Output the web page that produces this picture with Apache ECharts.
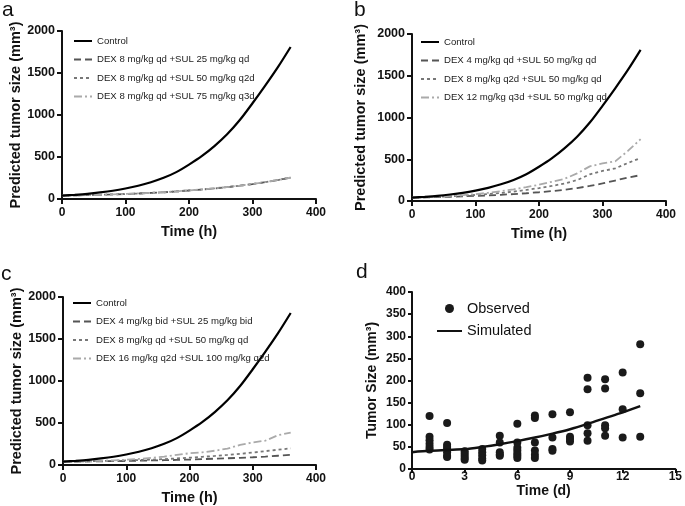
<!DOCTYPE html>
<html>
<head>
<meta charset="utf-8">
<script src="https://cdn.jsdelivr.net/npm/echarts@6/dist/echarts.min.js"></script>
<style>
html,body{margin:0;padding:0;background:#fff;}
#chart{width:685px;height:506px;}
</style>
</head>
<body>
<div id="chart"></div>
<script>
// ---------- DATA ----------
const timeH = [0,20,40,60,80,100,120,140,160,180,200,220,240,260,280,300,320,340,360];
const control = [40,50,62,78,98,125,158,200,252,320,410,510,630,770,940,1140,1350,1570,1810];

// Panel a
const namesA = ['DEX 8 mg/kg qd +SUL 25 mg/kg qd','DEX 8 mg/kg qd +SUL 50 mg/kg q2d','DEX 8 mg/kg qd +SUL 75 mg/kg q3d'];
const a1 = [40,43,46,50,54,59,65,72,80,90,101,113,126,141,158,178,200,225,255];
const a2 = [40,43,46,50,55,59,65,73,80,90,102,113,127,141,159,178,201,226,254];
const a3 = [40,44,47,50,55,60,66,73,81,91,102,114,127,142,159,179,201,227,253];

// Panel b
const namesB = ['DEX 4 mg/kg qd +SUL 50 mg/kg qd','DEX 8 mg/kg q2d +SUL 50 mg/kg qd','DEX 12 mg/kg q3d +SUL 50 mg/kg qd'];
const b1 = [40,43,47,51,56,61,67,74,83,93,105,118,135,155,180,210,245,280,310];
const b2 = [40,45,50,56,63,72,83,96,112,132,155,180,210,250,320,360,390,455,515];
const b3 = [40,46,53,61,71,83,98,117,140,165,195,230,265,330,415,450,475,600,740];

// Panel c
const namesC = ['DEX 4 mg/kg bid +SUL 25 mg/kg bid','DEX 8 mg/kg qd +SUL 50 mg/kg qd','DEX 16 mg/kg q2d +SUL 100 mg/kg q2d'];
const c1 = [40,41,42,44,46,48,51,54,57,61,65,70,75,80,86,92,100,110,120];
const c2 = [40,42,44,47,50,54,59,64,70,78,87,97,108,120,133,148,165,182,198];
const c3 = [40,43,46,50,56,63,72,85,100,120,140,150,170,195,240,268,290,355,385];

// Panel d
const obsDay  = [1,1,1,1,1,1, 2,2,2,2,2,2,2, 3,3,3,3,3, 4,4,4,4,4, 5,5,5,5,5, 6,6,6,6,6,6,6, 7,7,7,7,7,7, 8,8,8,8, 9,9,9,9, 10,10,10,10,10, 11,11,11,11,11, 12,12,12, 13,13,13];
const obsSize = [120,73,65,57,50,44, 104,55,50,45,38,30,27, 40,35,30,25,21, 45,38,31,24,19, 75,60,38,33,30, 102,60,48,42,35,30,25, 121,115,60,42,32,25, 124,71,45,41, 128,73,68,62, 206,180,99,81,64, 203,182,99,92,75, 218,135,71, 282,171,73];
const simDay  = [0,1,2,3,4,5,6,7,8,9,10,11,12,13];
const simSize = [38,41,43,45,50,56,63,71,80,90,102,115,128,142];

const xTicksH = [0,100,200,300,400];
const yTicksSize = [0,500,1000,1500,2000];

// ---------- CHART ----------
const FONT = 'Liberation Sans';
const pairs = (xs, ys) => xs.map((x,i)=>[x, ys[i]]);
const plain = v => String(v);

const styles = [
  {color:'#555', type:[7,4], width:1.8},
  {color:'#777', type:[3,3], width:1.8},
  {color:'#aaa', type:[8,3,2,3], width:1.8}
];

function xAxisH(gi){
  return {gridIndex:gi, type:'value', min:xTicksH[0], max:xTicksH[xTicksH.length-1], interval:100,
    name:'Time (h)', nameLocation:'middle', nameGap:25,
    nameTextStyle:{fontFamily:FONT, fontWeight:'bold', fontSize:14.5, color:'#111'},
    axisLine:{show:true, onZero:false, lineStyle:{color:'#111', width:2}},
    axisTick:{show:true, inside:false, length:5, lineStyle:{color:'#111', width:2}},
    axisLabel:{fontFamily:FONT, fontWeight:'bold', fontSize:12, color:'#111', margin:8, formatter:plain},
    splitLine:{show:false}};
}
function yAxisSize(gi, gap){
  return {gridIndex:gi, type:'value', min:yTicksSize[0], max:yTicksSize[yTicksSize.length-1], interval:500,
    name:'Predicted tumor size (mm³)', nameLocation:'middle', nameGap:gap,
    nameTextStyle:{fontFamily:FONT, fontWeight:'bold', fontSize:14.5, color:'#111'},
    axisLine:{show:true, onZero:false, lineStyle:{color:'#111', width:2}},
    axisTick:{show:true, inside:false, length:5, lineStyle:{color:'#111', width:2}},
    axisLabel:{fontFamily:FONT, fontWeight:'bold', fontSize:12.5, color:'#111', margin:7, formatter:plain},
    splitLine:{show:false}};
}
function lineSeries(name, gi, ys, st){
  return {name:name, type:'line', xAxisIndex:gi, yAxisIndex:gi, data:pairs(timeH, ys),
    symbol:'none', showSymbol:false, smooth:false, lineStyle:st, itemStyle:{color:st.color}, z:2};
}
function ctrlSeries(gi){
  return {name:'Control', type:'line', xAxisIndex:gi, yAxisIndex:gi, data:pairs(timeH, control),
    symbol:'none', showSymbol:false, smooth:0.3, lineStyle:{color:'#000', width:2.2, type:'solid'}, itemStyle:{color:'#000'}, z:3};
}
function legendFor(left, top, names){
  return {left:left, top:top, padding:0, orient:'vertical', itemWidth:18, itemHeight:10, itemGap:8.5,
    itemStyle:{opacity:0},
    textStyle:{fontFamily:FONT, fontSize:9.6, color:'#222'}, data:['Control'].concat(names)};
}

const option = {
  animation:false,
  backgroundColor:'#fff',
  grid:[
    {left:62, top:31, width:254, height:168},
    {left:412, top:34, width:254, height:167},
    {left:63, top:297, width:253, height:168},
    {left:412, top:292, width:266, height:177}
  ],
  xAxis:[
    xAxisH(0), xAxisH(1), xAxisH(2),
    {gridIndex:3, type:'value', min:0, max:15, interval:3,
      name:'Time (d)', nameLocation:'middle', nameGap:14,
      nameTextStyle:{fontFamily:FONT, fontWeight:'bold', fontSize:14, color:'#111'},
      axisLine:{show:true, onZero:false, lineStyle:{color:'#111', width:2}},
      axisTick:{show:true, inside:false, length:4, lineStyle:{color:'#111', width:2}},
      axisLabel:{fontFamily:FONT, fontWeight:'bold', fontSize:12, color:'#111', margin:2, formatter:plain},
      splitLine:{show:false}}
  ],
  yAxis:[
    yAxisSize(0, 35.5), yAxisSize(1, 44), yAxisSize(2, 36.5),
    {gridIndex:3, type:'value', min:0, max:400, interval:50,
      name:'Tumor Size (mm³)', nameLocation:'middle', nameGap:33,
      nameTextStyle:{fontFamily:FONT, fontWeight:'bold', fontSize:14, color:'#111'},
      axisLine:{show:true, onZero:false, lineStyle:{color:'#111', width:2}},
      axisTick:{show:true, inside:false, length:4, lineStyle:{color:'#111', width:2}},
      axisLabel:{fontFamily:FONT, fontWeight:'bold', fontSize:12, color:'#111', margin:6, formatter:plain},
      splitLine:{show:false}}
  ],
  legend:[
    legendFor(73, 36, namesA),
    legendFor(420, 37, namesB),
    legendFor(72, 298, namesC),
    {left:436, top:301, padding:0, orient:'vertical', itemWidth:25, itemHeight:9, itemGap:7.5,
      textStyle:{fontFamily:FONT, fontSize:14.5, color:'#111'},
      data:[{name:'Observed', icon:'circle'}, {name:'Simulated', itemStyle:{opacity:0}}]}
  ],
  series:[
    ctrlSeries(0),
    lineSeries(namesA[0], 0, a1, styles[0]),
    lineSeries(namesA[1], 0, a2, styles[1]),
    lineSeries(namesA[2], 0, a3, styles[2]),
    ctrlSeries(1),
    lineSeries(namesB[0], 1, b1, styles[0]),
    lineSeries(namesB[1], 1, b2, styles[1]),
    lineSeries(namesB[2], 1, b3, styles[2]),
    ctrlSeries(2),
    lineSeries(namesC[0], 2, c1, styles[0]),
    lineSeries(namesC[1], 2, c2, styles[1]),
    lineSeries(namesC[2], 2, c3, styles[2]),
    {name:'Observed', type:'scatter', xAxisIndex:3, yAxisIndex:3, data:pairs(obsDay, obsSize),
      symbol:'circle', symbolSize:8, itemStyle:{color:'#1a1a1a', opacity:1}},
    {name:'Simulated', type:'line', xAxisIndex:3, yAxisIndex:3, data:pairs(simDay, simSize),
      symbol:'none', showSymbol:false, smooth:0.3, lineStyle:{color:'#111', width:2.5}, itemStyle:{color:'#111'}, z:3}
  ],
  graphic:[
    {type:'text', left:2, top:0, style:{text:'a', font:'21px "Liberation Sans"', fill:'#111'}},
    {type:'text', left:354, top:0, style:{text:'b', font:'21px "Liberation Sans"', fill:'#111'}},
    {type:'text', left:1, top:264, style:{text:'c', font:'21px "Liberation Sans"', fill:'#111'}},
    {type:'text', left:356, top:262, style:{text:'d', font:'21px "Liberation Sans"', fill:'#111'}}
  ]
};

const chart = echarts.init(document.getElementById('chart'), null, {renderer:'canvas'});
chart.setOption(option);
</script>
</body>
</html>
